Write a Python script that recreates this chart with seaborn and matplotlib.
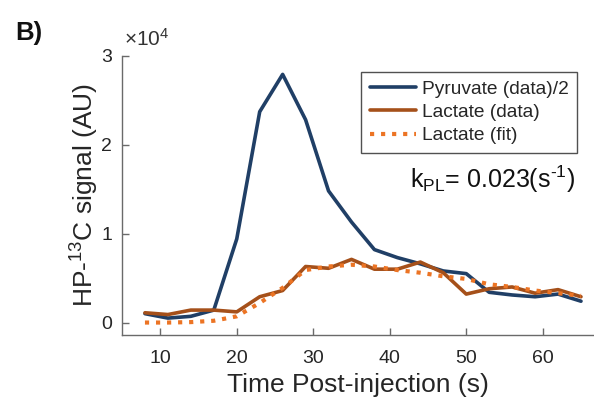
import numpy as np
import pandas as pd
import matplotlib
matplotlib.use("Agg")
import matplotlib.pyplot as plt
import seaborn as sns

time_s = [8, 11, 14, 17, 20, 23, 26, 29, 32, 35, 38, 41, 44, 47, 50, 53, 56, 59, 62, 65]
pyruvate_half = [0.10, 0.05, 0.07, 0.14, 0.94, 2.37, 2.79, 2.28, 1.48, 1.13, 0.82, 0.73, 0.66, 0.58,
                 0.55, 0.34, 0.31, 0.29, 0.32, 0.24]
lactate_data = [0.11, 0.09, 0.14, 0.14, 0.12, 0.29, 0.36, 0.63, 0.61, 0.71, 0.60, 0.60, 0.68, 0.56,
                0.32, 0.38, 0.40, 0.33, 0.37, 0.29]
lactate_fit = [0.00, 0.00, 0.005, 0.02, 0.07, 0.22, 0.39, 0.59, 0.63, 0.65, 0.63, 0.59, 0.56, 0.52,
               0.49, 0.43, 0.40, 0.36, 0.33, 0.30]
series_names = ["Pyruvate (data)/2", "Lactate (data)", "Lactate (fit)"]
x_ticks = [10, 20, 30, 40, 50, 60]
y_ticks = [0, 1, 2, 3]

sns.set_theme(style="white")
plt.rcParams["font.family"] = ["Liberation Sans", "DejaVu Sans"]
plt.rcParams["mathtext.default"] = "regular"

scale = 1e4
df = pd.DataFrame({
    "t": time_s * 3,
    "v": np.array(pyruvate_half + lactate_data + lactate_fit) * scale,
    "s": [series_names[0]] * len(time_s) + [series_names[1]] * len(time_s) + [series_names[2]] * len(time_s),
})

fig = plt.figure(figsize=(5.94, 4.0), dpi=100)
ax = fig.add_axes([122 / 594, 1 - 335 / 400, 472 / 594, (335 - 55.7) / 400])

colors = ["#203f66", "#a5501a", "#ec7424"]
styles = ["-", "-", ":"]
for name, c, ls in zip(series_names, colors, styles):
    sub = df[df["s"] == name]
    sns.lineplot(data=sub, x="t", y="v", ax=ax, color=c, linewidth=2.6 if ls == "-" else 3.0,
                 linestyle=ls, label=name)

ax.set_xlim(5, 66.7)
ax.set_ylim(-0.14 * scale, 3.0 * scale)
ax.set_xticks(x_ticks)
ax.set_xticklabels([str(v) for v in x_ticks])
ax.set_yticks([v * scale for v in y_ticks])
ax.set_yticklabels([str(v) for v in y_ticks])

for side in ["top", "right"]:
    ax.spines[side].set_visible(False)
for side in ["left", "bottom"]:
    ax.spines[side].set_color("#6a6a6a")
    ax.spines[side].set_linewidth(1.0)

ax.tick_params(axis="both", direction="in", length=5, width=1.0, color="#6a6a6a",
               labelsize=14, labelcolor="#262626")
ax.tick_params(axis="x", pad=11, bottom=True)
ax.tick_params(axis="y", pad=7, left=True)

ax.set_xlabel("Time Post-injection (s)", fontsize=19, color="#262626", labelpad=4)
ax.set_ylabel("HP-$^{13}$C signal (AU)", fontsize=19, color="#262626", labelpad=0)

leg = ax.legend(loc="upper right", bbox_to_anchor=(0.964, 0.942), borderaxespad=0,
                fontsize=13.8, frameon=True, fancybox=False, handlelength=2.4,
                handletextpad=0.3, labelspacing=0.3, borderpad=0.45)
leg.get_frame().set_edgecolor("#262626")
leg.get_frame().set_linewidth(1.0)
for t in leg.get_texts():
    t.set_color("#262626")

ax.text(0.96, 0.526, "k$_{PL}$= 0.023(s$^{\u20101}$)", transform=ax.transAxes, ha="right",
        va="baseline", fontsize=18, color="#111111")

fig.text(124 / 594, 1 - 46 / 400, r"$\times$10$^{4}$", fontsize=15, color="#333333",
         va="baseline", ha="left")
fig.text(15 / 594, 1 - 40 / 400, "B)", fontsize=18.5, fontweight="bold", va="baseline",
         ha="left", color="#111111")

fig.savefig("out.png", dpi=100)
